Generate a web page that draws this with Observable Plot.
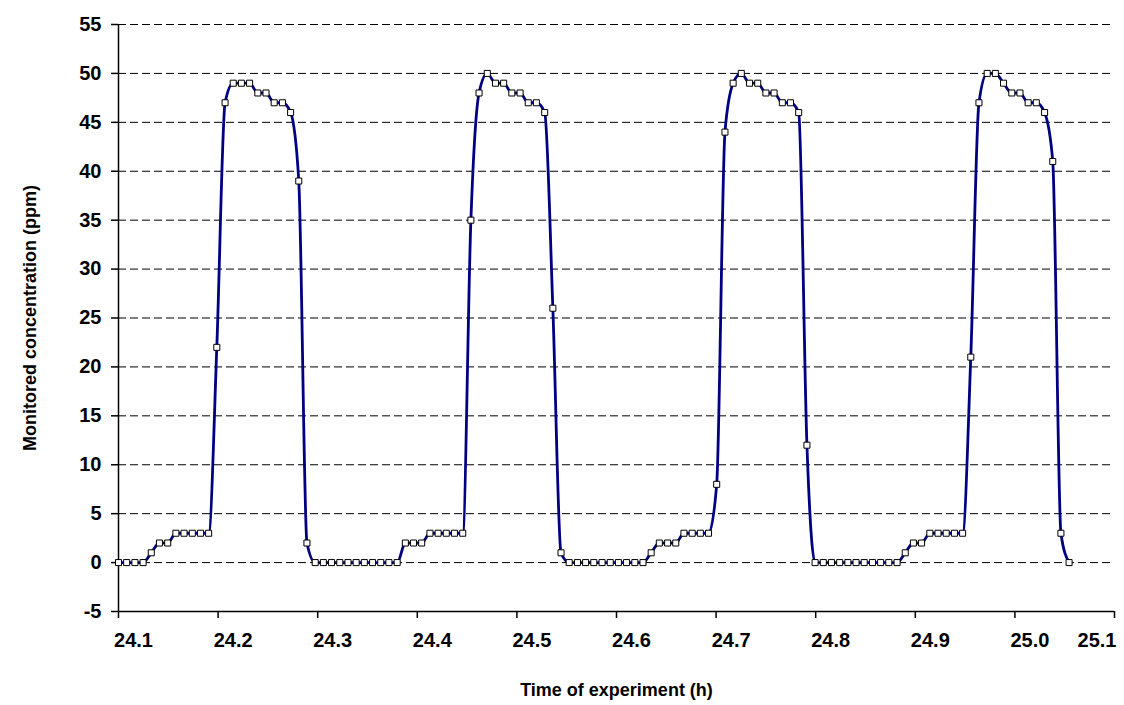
<!DOCTYPE html>
<html>
<head>
<meta charset="utf-8">
<script src="https://cdn.jsdelivr.net/npm/d3@7"></script>
<script src="https://cdn.jsdelivr.net/npm/@observablehq/plot@0.6"></script>
<style>
  html, body { margin: 0; padding: 0; background: #fff; }
  #chart svg { display: block; }
</style>
</head>
<body>
<div id="chart"></div>
<script>
// Sampling times (h) of the monitored concentration record
const time = [
  24.1000, 24.1082, 24.1165, 24.1247, 24.1329, 24.1411, 24.1494, 24.1576, 24.1658, 24.1741,
  24.1823, 24.1905, 24.1987, 24.2070, 24.2152, 24.2234, 24.2316, 24.2399, 24.2481, 24.2563,
  24.2646, 24.2728, 24.2810, 24.2892, 24.2975, 24.3057, 24.3139, 24.3222, 24.3304, 24.3386,
  24.3468, 24.3551, 24.3633, 24.3715, 24.3798, 24.3880, 24.3962, 24.4044, 24.4127, 24.4209,
  24.4291, 24.4373, 24.4456, 24.4538, 24.4620, 24.4703, 24.4785, 24.4867, 24.4949, 24.5032,
  24.5114, 24.5196, 24.5279, 24.5361, 24.5443, 24.5525, 24.5608, 24.5690, 24.5772, 24.5855,
  24.5937, 24.6019, 24.6101, 24.6184, 24.6266, 24.6348, 24.6430, 24.6513, 24.6595, 24.6677,
  24.6760, 24.6842, 24.6924, 24.7006, 24.7089, 24.7171, 24.7253, 24.7336, 24.7418, 24.7500,
  24.7582, 24.7665, 24.7747, 24.7829, 24.7912, 24.7994, 24.8076, 24.8158, 24.8241, 24.8323,
  24.8405, 24.8487, 24.8570, 24.8652, 24.8734, 24.8817, 24.8899, 24.8981, 24.9063, 24.9146,
  24.9228, 24.9310, 24.9393, 24.9475, 24.9557, 24.9639, 24.9722, 24.9804, 24.9886, 24.9969,
  25.0051, 25.0133, 25.0215, 25.0298, 25.0380, 25.0462, 25.0544
];

// Concentration (ppm) at each sampling time
const concentration = [
  0, 0, 0, 0, 1, 2, 2, 3, 3, 3,
  3, 3, 22, 47, 49, 49, 49, 48, 48, 47,
  47, 46, 39, 2, 0, 0, 0, 0, 0, 0,
  0, 0, 0, 0, 0, 2, 2, 2, 3, 3,
  3, 3, 3, 35, 48, 50, 49, 49, 48, 48,
  47, 47, 46, 26, 1, 0, 0, 0, 0, 0,
  0, 0, 0, 0, 0, 1, 2, 2, 2, 3,
  3, 3, 3, 8, 44, 49, 50, 49, 49, 48,
  48, 47, 47, 46, 12, 0, 0, 0, 0, 0,
  0, 0, 0, 0, 0, 0, 1, 2, 2, 3,
  3, 3, 3, 3, 21, 47, 50, 50, 49, 48,
  48, 47, 47, 46, 41, 3, 0
];

const xTicks = [24.1, 24.2, 24.3, 24.4, 24.5, 24.6, 24.7, 24.8, 24.9, 25.0, 25.1];
const yTicks = [-5, 0, 5, 10, 15, 20, 25, 30, 35, 40, 45, 50, 55];

const xTitle = "Time of experiment (h)";
const yTitle = "Monitored concentration (ppm)";

const records = time.map((t, i) => ({t, c: concentration[i]}));

const font = "'Liberation Sans', Arial, Helvetica, sans-serif";
const fmt = d => d.toFixed(1);
const lastTick = xTicks[xTicks.length - 1];

const chart = Plot.plot({
  width: 1124,
  height: 705,
  marginLeft: 118,
  marginRight: 10,
  marginTop: 24,
  marginBottom: 94,
  style: {fontFamily: font, fontSize: "20px", fontWeight: "bold", background: "#fff", color: "#000", overflow: "visible"},
  x: {domain: [24.1, 25.1]},
  y: {domain: [-5, 55]},
  marks: [
    // dashed horizontal gridlines
    Plot.ruleY(yTicks.filter(d => d > -5), {stroke: "#000", strokeWidth: 1, strokeDasharray: "8,4"}),
    // axis lines
    Plot.ruleX([24.1], {stroke: "#000", strokeWidth: 1.5}),
    Plot.ruleY([-5], {stroke: "#000", strokeWidth: 1.5}),
    Plot.axisY(yTicks, {
      tickSize: 7, tickPadding: 10, tickFormat: d => String(d),
      stroke: "#000", strokeWidth: 1.5, fill: "#000", label: null
    }),
    // x tick marks
    Plot.axisX(xTicks, {
      tickSize: 7, tickFormat: () => "", stroke: "#000", strokeWidth: 1.5, label: null
    }),
    // x tick labels, set slightly right of their ticks; the last one kept inside the frame
    Plot.axisX(xTicks.filter(d => d < lastTick), {
      tickSize: 0, tickPadding: 21, dx: 15, tickFormat: fmt, fill: "#000", label: null
    }),
    Plot.axisX([lastTick], {
      tickSize: 0, tickPadding: 21, dx: 2, textAnchor: "end", tickFormat: fmt, fill: "#000", label: null
    }),
    // axis titles
    Plot.text([yTitle], {
      frameAnchor: "left", dx: -88, rotate: -90, text: d => d,
      fontSize: 18, fontWeight: "bold", fill: "#000", lineAnchor: "middle", textAnchor: "middle"
    }),
    Plot.text([xTitle], {
      frameAnchor: "bottom", dy: 79, text: d => d,
      fontSize: 18, fontWeight: "bold", fill: "#000", lineAnchor: "middle", textAnchor: "middle"
    }),
    // smoothed concentration trace
    Plot.line(records, {x: "t", y: "c", curve: "monotone-x", stroke: "#000080", strokeWidth: 2.8}),
    // sample markers
    Plot.dot(records, {x: "t", y: "c", symbol: "square", r: 3.4, fill: "#fff", stroke: "#000", strokeWidth: 1})
  ]
});

document.getElementById("chart").appendChild(chart);
</script>
</body>
</html>
